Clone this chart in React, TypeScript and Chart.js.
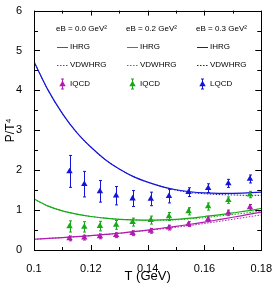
import React, { useEffect, useRef } from "react";
import { Chart, registerables } from "chart.js";

Chart.register(...registerables);

const FONT = "'Liberation Sans', Arial, Helvetica, sans-serif";

const latticeT = [0.1125, 0.1177, 0.1232, 0.1289, 0.1347, 0.1411, 0.1475, 0.1544, 0.1613, 0.1684, 0.176];
const lqcd00 = [0.29, 0.31, 0.34, 0.37, 0.42, 0.48, 0.56, 0.65, 0.77, 0.93, 1.07];
const err00 = [0.06, 0.06, 0.06, 0.06, 0.06, 0.06, 0.06, 0.06, 0.06, 0.07, 0.07];
const lqcd02 = [0.59, 0.58, 0.6, 0.63, 0.7, 0.75, 0.84, 0.97, 1.09, 1.25, 1.39];
const err02 = [0.14, 0.13, 0.12, 0.11, 0.1, 0.1, 0.1, 0.09, 0.09, 0.08, 0.08];
const lqcd03 = [1.97, 1.65, 1.47, 1.36, 1.29, 1.28, 1.35, 1.45, 1.55, 1.67, 1.78];
const err03 = [0.4, 0.32, 0.27, 0.23, 0.2, 0.17, 0.17, 0.11, 0.11, 0.1, 0.1];

const curveT = [0.1, 0.105, 0.11, 0.115, 0.12, 0.125, 0.13, 0.135, 0.14, 0.145, 0.15, 0.155, 0.16, 0.165, 0.17, 0.175, 0.18];
const ihrg00 = [0.27, 0.29, 0.31, 0.335, 0.36, 0.39, 0.42, 0.46, 0.5, 0.545, 0.59, 0.645, 0.7, 0.76, 0.82, 0.885, 0.95];
const vdw00 = [0.27, 0.29, 0.31, 0.335, 0.36, 0.39, 0.42, 0.455, 0.49, 0.53, 0.57, 0.615, 0.665, 0.715, 0.77, 0.825, 0.88];
const ihrg02 = [1.28, 1.1, 0.98, 0.9, 0.84, 0.8, 0.77, 0.755, 0.75, 0.755, 0.77, 0.8, 0.84, 0.88, 0.93, 0.98, 1.04];
const vdw02 = [1.28, 1.1, 0.98, 0.9, 0.84, 0.8, 0.77, 0.755, 0.745, 0.745, 0.755, 0.78, 0.81, 0.85, 0.89, 0.93, 0.98];
const ihrg03 = [4.72, 4.0, 3.42, 2.95, 2.58, 2.27, 2.03, 1.84, 1.7, 1.59, 1.51, 1.46, 1.43, 1.42, 1.42, 1.43, 1.45];
const vdw03 = [4.72, 4.0, 3.42, 2.95, 2.58, 2.27, 2.03, 1.84, 1.7, 1.59, 1.5, 1.44, 1.41, 1.39, 1.38, 1.37, 1.37];

const headers = ["eB = 0.0 GeV²", "eB = 0.2 GeV²", "eB = 0.3 GeV²"];
const dataLabels = ["IQCD", "IQCD", "LQCD"];
const colors = ["#b01cb0", "#18a818", "#1414d8"];

const xTicksMajor = [0.1, 0.12, 0.14, 0.16, 0.18];
const xTicksMinor = [0.11, 0.13, 0.15, 0.17];
const yTicksMajor = [1, 2, 3, 4, 5];
const yTicksMinor = [0.5, 1.5, 2.5, 3.5, 4.5, 5.5];

const pts = (xs: number[], ys: number[]) => xs.map((x, i) => ({ x, y: ys[i] }));

const errs = [err00, err02, err03];
const vals = [lqcd00, lqcd02, lqcd03];

const framePlugin = {
  id: "frameTicks",
  beforeDatasetsDraw(chart: any) {
    const { ctx, scales } = chart;
    const xs = scales.x, ys = scales.y;
    ctx.save();
    ctx.lineWidth = 1;
    ctx.setLineDash([]);
    for (let s = 0; s < 3; s++) {
      ctx.strokeStyle = colors[s];
      latticeT.forEach((t, i) => {
        const px = Math.round(xs.getPixelForValue(t)) + 0.5;
        const top = ys.getPixelForValue(vals[s][i] + errs[s][i]);
        const bot = ys.getPixelForValue(vals[s][i] - errs[s][i]);
        ctx.beginPath();
        ctx.moveTo(px, top);
        ctx.lineTo(px, bot);
        ctx.moveTo(px - 1.5, top);
        ctx.lineTo(px + 1.5, top);
        ctx.moveTo(px - 1.5, bot);
        ctx.lineTo(px + 1.5, bot);
        ctx.stroke();
      });
    }
    ctx.restore();
  },
  afterDraw(chart: any) {
    const { ctx, chartArea: a, scales } = chart;
    const xs = scales.x, ys = scales.y;
    ctx.save();
    ctx.setLineDash([]);
    ctx.strokeStyle = "#000";
    ctx.lineWidth = 1;
    ctx.strokeRect(Math.round(a.left) + 0.5, Math.round(a.top) + 0.5, Math.round(a.right - a.left), Math.round(a.bottom - a.top));
    ctx.beginPath();
    const xt = (v: number, len: number) => {
      const px = Math.round(xs.getPixelForValue(v)) + 0.5;
      ctx.moveTo(px, a.bottom);
      ctx.lineTo(px, a.bottom - len);
      ctx.moveTo(px, a.top);
      ctx.lineTo(px, a.top + len);
    };
    const yt = (v: number, len: number) => {
      const py = Math.round(ys.getPixelForValue(v)) + 0.5;
      ctx.moveTo(a.left, py);
      ctx.lineTo(a.left + len, py);
      ctx.moveTo(a.right, py);
      ctx.lineTo(a.right - len, py);
    };
    xTicksMajor.forEach((v) => xt(v, 5));
    xTicksMinor.forEach((v) => xt(v, 3));
    yTicksMajor.forEach((v) => yt(v, 6));
    yTicksMinor.forEach((v) => yt(v, 4));
    ctx.stroke();

    // legend
    const colX = [57, 127, 197];
    const rows = [47, 65, 84];
    ctx.font = `8px ${FONT}`;
    ctx.textBaseline = "middle";
    ctx.textAlign = "left";
    for (let c = 0; c < 3; c++) {
      const x0 = colX[c];
      ctx.fillStyle = "#000";
      ctx.fillText(headers[c], x0 - 1, 29);
      ctx.fillText("IHRG", x0 + 13, rows[0]);
      ctx.fillText("VDWHRG", x0 + 13, rows[1]);
      ctx.fillText(dataLabels[c], x0 + 13, rows[2]);
      ctx.strokeStyle = colors[c];
      ctx.lineWidth = 1;
      ctx.setLineDash([]);
      ctx.beginPath();
      ctx.moveTo(x0, rows[0] + 0.5);
      ctx.lineTo(x0 + 11, rows[0] + 0.5);
      ctx.stroke();
      ctx.setLineDash([1.5, 1.5]);
      ctx.beginPath();
      ctx.moveTo(x0, rows[1] + 0.5);
      ctx.lineTo(x0 + 11, rows[1] + 0.5);
      ctx.stroke();
      ctx.setLineDash([]);
      const mx = x0 + 5.5;
      const my = rows[2];
      ctx.beginPath();
      ctx.moveTo(mx, my - 5);
      ctx.lineTo(mx, my + 5);
      ctx.moveTo(mx - 1.5, my - 5);
      ctx.lineTo(mx + 1.5, my - 5);
      ctx.moveTo(mx - 1.5, my + 5);
      ctx.lineTo(mx + 1.5, my + 5);
      ctx.stroke();
      ctx.fillStyle = colors[c];
      ctx.beginPath();
      ctx.moveTo(mx, my - 3.5);
      ctx.lineTo(mx + 3.2, my + 2.2);
      ctx.lineTo(mx - 3.2, my + 2.2);
      ctx.closePath();
      ctx.fill();
    }
    ctx.restore();
  },
};

export default function App() {
  const ref = useRef<HTMLCanvasElement>(null);
  useEffect(() => {
    document.body.style.margin = "0";
    const lineDs = (data: number[], color: string, dashed: boolean) => ({
      type: "line" as const,
      data: pts(curveT, data),
      borderColor: color,
      backgroundColor: color,
      borderWidth: dashed ? 1 : 1.2,
      borderDash: dashed ? [1.5, 1.5] : [],
      pointRadius: 0,
      cubicInterpolationMode: "monotone" as const,
      fill: false,
    });
    const ptDs = (data: number[], color: string) => ({
      type: "scatter" as const,
      data: pts(latticeT, data),
      borderColor: color,
      backgroundColor: color,
      pointStyle: "triangle",
      pointRadius: 3.7,
      borderWidth: 0,
      showLine: false,
    });
    const chart = new Chart(ref.current!, {
      type: "scatter",
      data: {
        datasets: [
          ptDs(lqcd00, colors[0]),
          ptDs(lqcd02, colors[1]),
          ptDs(lqcd03, colors[2]),
          lineDs(ihrg00, colors[0], false),
          lineDs(vdw00, colors[0], true),
          lineDs(ihrg02, colors[1], false),
          lineDs(vdw02, colors[1], true),
          lineDs(ihrg03, colors[2], false),
          lineDs(vdw03, colors[2], true),
        ] as any,
      },
      options: {
        animation: false,
        responsive: false,
        layout: { padding: { left: 0, top: 8, right: 14, bottom: 0 } },
        plugins: { legend: { display: false }, tooltip: { enabled: false } },
        scales: {
          x: {
            type: "linear",
            min: 0.1,
            max: 0.18,
            grid: { display: false },
            border: { display: false },
            afterFit: (s: any) => { s.height = 41; },
            afterBuildTicks: (s: any) => { s.ticks = xTicksMajor.map((v) => ({ value: v })); },
            ticks: {
              color: "#000",
              font: { family: FONT, size: 11 },
              padding: 4,
              maxRotation: 0,
              callback: (v: any) => String(Number(Number(v).toFixed(2))),
            },
            title: {
              display: true,
              text: "T (GeV)",
              color: "#000",
              font: { family: FONT, size: 13 },
              padding: { top: 0, bottom: 7 },
            },
          },
          y: {
            type: "linear",
            min: 0,
            max: 6,
            grid: { display: false },
            border: { display: false },
            afterFit: (s: any) => { s.width = 34; },
            ticks: {
              stepSize: 1,
              color: "#000",
              font: { family: FONT, size: 11 },
              padding: 4,
            },
            title: {
              display: true,
              text: "P/T⁴",
              color: "#000",
              font: { family: FONT, size: 12 },
              padding: { top: 3, bottom: 0 },
            },
          },
        },
      },
      plugins: [framePlugin],
    });
    return () => chart.destroy();
  }, []);
  return (
    <div style={{ width: 276, height: 291 }}>
      <canvas ref={ref} width={276} height={291} style={{ display: "block" }} />
    </div>
  );
}
